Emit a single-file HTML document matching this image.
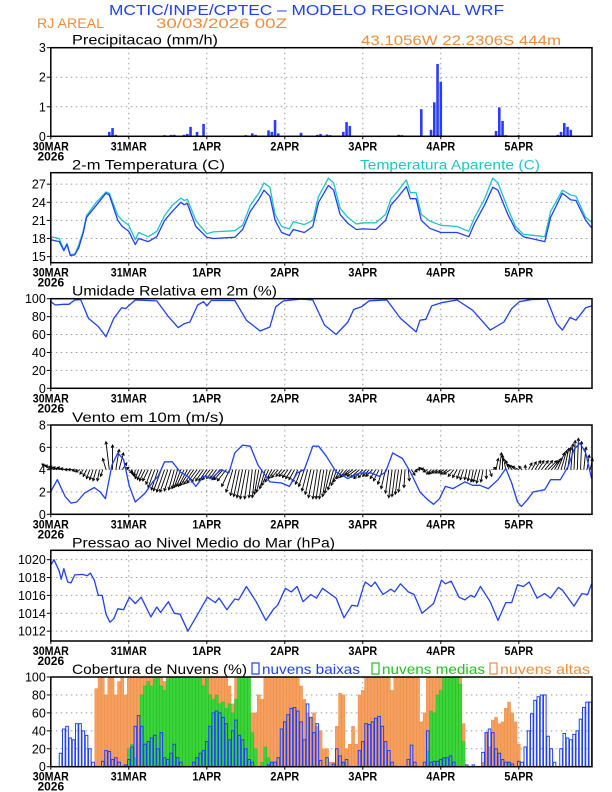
<!DOCTYPE html>
<html><head><meta charset="utf-8">
<style>
html,body{margin:0;padding:0;background:#fff;}
svg{display:block;font-family:"Liberation Sans",sans-serif;}
</style></head>
<body>
<svg id="c" width="612" height="792" viewBox="0 0 612 792" xmlns="http://www.w3.org/2000/svg">
<text x="109" y="15" font-size="15" fill="#2040ff" textLength="395" lengthAdjust="spacingAndGlyphs">MCTIC/INPE/CPTEC – MODELO REGIONAL WRF</text>
<text x="37" y="28" font-size="14" fill="#f08c3c" textLength="67" lengthAdjust="spacingAndGlyphs">RJ AREAL</text>
<text x="156" y="28" font-size="14" fill="#f08c3c" textLength="131" lengthAdjust="spacingAndGlyphs">30/03/2026 00Z</text>
<text x="361" y="45" font-size="14" fill="#f08c3c" textLength="200" lengthAdjust="spacingAndGlyphs">43.1056W 22.2306S 444m</text>
<g id="g"></g>
</svg>
<script>
// ---------- DATA ----------
const dayLabels = ["30MAR","31MAR","1APR","2APR","3APR","4APR","5APR"];
const precipHours = [18,19,20,35,37,38,41,42,43,45,47,48,60,62,63,67,68,69,70,77,82,83,85,86,90,91,92,107,108,114,117,118,119,120,137,138,139,140,144,156,157,158,159,160];
const precipVals  = [0.15,0.28,0.05,0.04,0.05,0.05,0.05,0.08,0.32,0.15,0.42,0.02,0.04,0.1,0.05,0.2,0.15,0.55,0.1,0.12,0.05,0.08,0.06,0.04,0.15,0.48,0.35,0.05,0.04,0.92,0.22,1.15,2.45,1.85,0.18,0.98,0.52,0.04,0.04,0.05,0.15,0.45,0.32,0.22];

const tempHours = [0,2.6,4,5,6,7.4,8.6,10,11,14,17,18,20.6,22,24,26,27,30,32.6,35,37.4,40,41,42,44.6,48,50,56.6,59,61.4,64,65.6,67.4,69,71,73.4,74.6,78,80.6,82.4,85.4,87,89,91.4,94,96.2,100,103,104.6,107,109.4,110.6,112.4,114,116.6,120,125,128.6,130.4,133.4,136,137.6,140.6,143,145.4,152,153.8,157.4,160,161.6,164.6,166.4];
const tempVals = [17.8,17.5,16,17,15.2,15.3,16.5,19,21.5,23.5,25.5,25.2,21,20,19.2,17,18,17.5,18.3,21,22.5,24,23.6,23.8,20,18.2,18,18.2,19.5,22.5,24.5,26,25,21,19,18.5,19.5,19,20,24,26.8,26,22,20.5,19.5,19.6,19.5,21,23.5,25,26.6,24.6,24.6,21,19.7,19,19,18.3,20.5,23.5,26.5,26,22,19.5,18.3,17.5,21.5,25.5,24.4,24.3,21,19.8];
const apparentVals = [18.3,18,16.1,17.2,15.3,15.4,17,19.3,21.8,24,25.7,25.5,21.8,21,20.2,17.8,19,18.3,19.2,21.8,23.5,24.7,24.3,24.5,21,18.8,19.1,19.3,20.2,23.5,25.5,27.2,26.5,22,20,19.6,20.8,20.3,21,25,28,27.2,23,21.5,20.4,20.6,20.6,22,24.5,26,27.7,25.6,25.6,22,20.9,20.2,20,19.2,21.5,24.5,28,27.2,23,20,18.7,18.3,22.5,26,25.2,25,21.5,20.7];

const rhHours = [0,1.4,3.8,5.6,7.4,9.2,11.6,14.6,17,19.4,21.8,23,26,32.6,36.2,39.2,41,42.8,45.2,47,48,49.4,56.6,60.2,64.4,67.4,69.2,71.6,77,80.6,84.2,87.8,91.4,93.2,95.6,98,103.4,107.6,112.4,113.6,115.4,117.2,120.2,125,129.8,135.2,139.4,141.8,144.2,147.8,152.6,155.6,157.4,159.8,161.6,164.6,166.4];
const rhVals = [96.6,93,93.7,93.7,98.5,99,78,69,57.6,78,90,89,98.5,97.5,80,67.7,72,74,93,96.6,92,98,98,76,64,68.4,91,97.5,99.6,98.5,70.6,60,74,88,91,97.7,98.5,78,63,76,77,92,95.5,98.5,87,65,74,89,96.6,99,99.6,72.5,65,79,76,90,92];

// hourly wind components (hour 0..166)
const windU = [-0.8,-0.8,-0.7,-0.7,-0.6,-0.6,-0.5,-0.5,-0.4,-0.4,-0.3,-0.3,-0.3,-0.3,-0.3,-0.2,-0.2,-0.3,-0.3,0,0.3,0.4,0.4,0.3,0.3,0.1,-0.1,-0.3,-0.4,-0.5,-0.5,-0.5,-0.6,-0.6,-0.7,-0.7,-0.7,-0.6,-0.5,-0.5,-0.6,-0.7,-0.8,-0.9,-0.9,-0.9,-0.8,-0.7,-0.7,-0.7,-0.6,-0.6,-0.7,-0.8,-0.8,-0.7,-0.6,-0.5,-0.5,-0.5,-0.5,-0.4,-0.3,-0.3,-0.4,-0.5,-0.5,-0.6,-0.6,-0.6,-0.6,-0.5,-0.5,-0.5,-0.5,-0.5,-0.5,-0.5,-0.5,-0.5,-0.5,-0.5,-0.4,-0.4,-0.4,-0.4,-0.5,-0.5,-0.5,-0.6,-0.6,-0.6,-0.7,-0.7,-0.8,-0.8,-0.8,-0.7,-0.6,-0.6,-0.5,-0.5,-0.4,-0.4,-0.3,-0.3,-0.3,-0.3,-0.3,-0.1,0.1,0.3,0.2,0,-0.2,-0.3,-0.4,-0.4,-0.5,-0.5,-0.5,-0.5,-0.6,-0.6,-0.5,-0.4,-0.3,-0.3,-0.2,-0.2,-0.2,-0.3,-0.3,-0.2,0,0.2,0.3,0.2,0.2,0,-0.2,-0.3,-0.5,-0.6,-0.6,-0.3,0,0.3,0.4,0.5,0.5,0.6,0.7,0.8,0.7,0.6,0.6,0.5,0.4,0.3,0.2,0.1,0.1,0.1,0.2,0.2,0.2];
const windV = [0.5,0.4,0.3,0.2,0.2,0.1,0,0,-0.1,-0.2,-0.4,-0.6,-0.8,-0.9,-1.0,-1.0,-0.6,1.0,2.5,2.2,1.8,1.5,0.6,0.2,-0.3,-0.5,-0.6,-0.8,-0.9,-1.0,-1.0,-1.3,-1.6,-1.8,-1.9,-2.0,-2.0,-1.9,-1.8,-1.7,-1.6,-1.5,-1.5,-1.4,-1.3,-1.2,-1.1,-1.0,-1.0,-0.9,-0.8,-0.8,-0.9,-0.9,-1.0,-1.5,-2.0,-2.3,-2.4,-2.5,-2.6,-2.6,-2.5,-2.5,-2.2,-2.0,-1.7,-1.4,-1.1,-0.8,-0.7,-0.6,-0.6,-0.7,-0.8,-0.9,-1.1,-1.3,-1.5,-1.9,-2.2,-2.5,-2.6,-2.6,-2.6,-2.4,-2.1,-1.8,-1.4,-1.1,-0.8,-0.7,-0.6,-0.5,-0.6,-0.7,-0.8,-0.7,-0.6,-0.6,-0.8,-1.0,-1.3,-1.7,-2.1,-2.5,-2.4,-2.2,-2.0,-1.6,-1.0,-0.5,-0.2,0.1,0.2,0.1,-0.2,-0.4,-0.4,-0.3,-0.3,-0.3,-0.4,-0.4,-0.6,-0.7,-0.8,-0.9,-0.9,-1.0,-1.1,-1.1,-1.2,-1.1,-0.8,-0.6,0.2,1.0,1.5,1.3,1.0,0.8,0.5,0.4,0.3,0.3,0.4,0.6,0.7,0.8,0.8,0.8,0.8,0.8,0.8,1.0,1.5,1.7,1.9,2.0,2.3,2.6,2.8,2.5,2.0,1.3,1.0];

const windHours = [0,2,4.4,6.2,8,10.4,13.4,15.2,16.8,18.8,20.6,22.4,24.2,26,29,31.4,33,35,37.4,39.8,42.2,44.6,47,49.4,52.4,54.8,56.6,59,61.4,63.8,67.4,71,73.4,75.8,78,80.6,82.4,84.8,87.8,91.4,95,98.6,101,103,105.2,108.2,110.6,113.6,116,117.8,119.6,121.4,123.8,127.4,129.8,132,134.6,137.6,140,141.8,143.6,144.8,146.6,148.4,152,153.8,156.8,159.2,161,162.8,164.6,166.4];
const windSpeed = [2.03,3.1,1.6,1.0,1.1,1.9,2.4,2.0,1.4,4.4,5.5,4.9,2.5,1.1,1.9,2.9,3.4,4.7,4.7,3.8,3.4,2.5,3.4,3.2,4.0,3.7,5.5,6.2,6.1,4.4,2.9,2.8,2.5,3.7,4.0,6.1,6.1,5.2,3.8,3.2,3.7,3.7,3.4,3.8,5.5,5.0,3.8,2.0,1.3,0.9,1.4,2.5,2.3,2.9,2.6,2.6,2.3,3.1,4.1,2.8,1.1,0.7,1.3,2.0,2.2,3.1,3.1,4.3,5.8,6.4,5.5,3.2];

const presHours = [0,1,2.6,3.2,4,5.2,6.2,7.4,9.8,11.2,12.2,13.4,14.6,15.8,17,18.2,19.4,20.6,22.4,24.2,26,27.8,30.8,32.6,33.8,36.2,38,39.8,42.2,45.2,48.2,50.6,51.8,54.2,56.6,57.8,60.2,63.2,66.2,68.6,69.8,72.2,74,75.8,77.6,80,81.8,83.6,86.6,87.8,90.2,92.6,94.4,96.2,96.8,98.6,99.8,102.2,104.6,105.8,107.6,110,111.8,114.2,117.8,120.2,121.4,123.2,125.6,127.4,129.2,130.4,132.2,135.2,137.6,140,141.8,143.6,145.4,147.2,149.6,152,153.8,156.2,157.4,158.6,161,163.4,165.2,166.4];
const presVals = [1019.4,1020,1018.7,1017.8,1019,1017.5,1017.4,1018.3,1018.35,1018.2,1018.5,1017.7,1016,1016,1013.9,1013,1013.4,1014.5,1014.4,1015.8,1015.1,1015.8,1013.6,1014.7,1014.1,1015.3,1014,1013.9,1012,1013.9,1015.8,1015.2,1015.7,1014.4,1015.6,1015.5,1017,1015.3,1013.2,1014.5,1014.9,1016.8,1016.4,1017,1015.3,1016.1,1015.7,1016.8,1016,1015.7,1013.5,1014.9,1014.8,1017,1017.5,1017,1017.5,1016.1,1016.7,1016.4,1017.3,1016.4,1016.1,1014,1015.1,1017.7,1017.3,1017.6,1015.8,1015.5,1016,1015.8,1017,1015.3,1013.2,1015.2,1015.2,1017.2,1017,1017.5,1015.7,1016.2,1015.7,1016.9,1016.6,1016,1014.8,1016.2,1016.1,1017.3];

const cloudLow = [0,0,0,15,42,45,32,30,48,48,40,35,20,5,0,0,6,18,17,8,10,5,0,2,8,22,45,57,45,25,28,32,35,20,38,10,8,15,25,10,5,0,0,0,5,10,15,18,28,45,60,62,60,55,48,30,40,52,35,30,20,8,5,0,0,0,0,2,5,5,10,42,50,58,65,66,62,50,30,70,55,38,48,7,0,10,0,3,20,12,5,8,0,0,0,18,28,48,47,50,54,56,45,28,18,5,0,0,0,0,8,24,5,0,0,5,40,5,6,6,8,10,10,12,5,0,0,0,2,0,2,0,0,16,38,42,38,20,15,8,5,5,3,0,6,5,22,40,59,74,78,80,80,34,20,5,0,20,37,32,30,36,40,53,66,72,72];
const cloudMid = [0,0,0,0,0,0,0,0,0,0,0,0,0,0,0,0,0,0,0,0,0,0,0,0,20,25,10,0,80,90,95,90,98,100,90,85,98,100,100,100,100,100,100,100,100,100,100,90,100,80,75,80,70,72,65,70,60,75,100,100,100,100,38,20,0,5,22,10,5,0,0,0,0,0,0,0,0,0,0,0,0,0,0,0,0,0,0,0,0,0,5,0,0,0,0,0,0,0,0,0,0,0,0,0,0,0,0,0,0,0,0,0,0,0,0,0,17,62,60,80,85,100,100,100,100,100,92,28,0,0,0,0,0,0,0,0,0,0,0,0,0,5,0,0,0,0,0,0,0,0,0,0,0,0,0,0,0,0,0,0,0,0,0,0,0,0,0];
const cloudHigh = [0,0,0,0,0,0,0,0,0,0,0,0,0,0,87,100,100,80,100,100,80,95,100,80,100,100,100,100,100,100,100,100,100,95,100,95,100,100,100,100,100,100,100,100,100,100,100,100,100,100,100,100,100,100,100,90,70,100,60,100,100,60,60,60,80,75,100,100,100,100,100,100,100,100,100,100,100,90,75,60,55,60,45,40,20,20,5,5,45,82,80,20,25,45,25,80,85,100,100,100,100,100,100,100,100,85,100,100,100,100,100,100,100,100,50,60,100,100,100,100,100,100,100,100,100,100,100,48,0,0,0,0,0,5,38,22,52,55,48,50,65,72,60,50,25,0,0,0,0,0,0,0,0,0,0,0,0,0,0,0,0,0,0,0,0,0,0,0];

// ---------- DRAWING ----------
const NS = "http://www.w3.org/2000/svg";
const G = document.getElementById('g');
const X0 = 50.8, PXH = 3.25, XR = 592;
function X(h){ return X0 + h*PXH; }
function mk(tag, attrs, parent){
  const e = document.createElementNS(NS, tag);
  for (const k in attrs) e.setAttribute(k, attrs[k]);
  (parent||G).appendChild(e);
  return e;
}
const panels = [
  {key:"precip", top:47.7, bot:136.3, min:0, max:3, ticks:[0,1,2,3], title:"Precipitacao (mm/h)", tw:146},
  {key:"temp", top:172.7, bot:262.7, min:14, max:28.9, ticks:[15,18,21,24,27], title:"2-m Temperatura (C)", tw:153},
  {key:"rh", top:298.7, bot:388.3, min:0, max:100, ticks:[0,20,40,60,80,100], title:"Umidade Relativa em 2m (%)", tw:205},
  {key:"wind", top:425, bot:514.3, min:0, max:8, ticks:[0,2,4,6,8], title:"Vento em 10m (m/s)", tw:152},
  {key:"pres", top:550.3, bot:641, min:1010.9, max:1021.05, ticks:[1012,1014,1016,1018,1020], title:"Pressao ao Nivel Medio do Mar (hPa)", tw:263},
  {key:"cloud", top:677, bot:766.7, min:0, max:100, ticks:[0,20,40,60,80,100], title:"Cobertura de Nuvens (%)", tw:175}
];
function Yf(p){ return v => p.bot - (v - p.min)/(p.max - p.min)*(p.bot - p.top); }

panels.forEach(p => {
  const Y = Yf(p);
  const pg = mk('g', {});
  
  
  dayLabels.forEach((d,i) => {
    if (i===0) return;
    const l = mk('line', {x1:X(i*24), x2:X(i*24), y1:p.top, y2:p.bot, stroke:'#999', 'stroke-width':1, 'stroke-dasharray':'1.5,3.5'}, pg);
    
    
  });
  p.ticks.forEach(t => {
    const y = Y(t);
    if (y > p.top+1 && y < p.bot-1) {
      const l = mk('line', {x1:X0, x2:XR, y1:y, y2:y, stroke:'#999', 'stroke-width':1, 'stroke-dasharray':'1.5,3.5'}, pg);
      
      
    }
    const tk = mk('line', {x1:X0-4, x2:X0, y1:y, y2:y, stroke:'#000', 'stroke-width':1}, pg);
    
    
    const tl = mk('text', {x:X0-5, y:y+4.5, 'font-size':12.5, 'text-anchor':'end', fill:'#000'}, pg);
    tl.textContent = t;
    
    
  });
  dayLabels.forEach((d,i) => {
    const tx = mk('text', {x:X(i*24), y:p.bot+14, 'font-size':12, 'font-weight':'bold', 'text-anchor':'middle', fill:'#000', textLength: d.length*7.2, lengthAdjust:'spacingAndGlyphs'}, pg);
    tx.textContent = d;
    
    
    const tk = mk('line', {x1:X(i*24), x2:X(i*24), y1:p.bot, y2:p.bot+3, stroke:'#000'}, pg);
    
    
  });
  const yr = mk('text', {x:X0, y:p.bot+24, 'font-size':12, 'font-weight':'bold', 'text-anchor':'middle', fill:'#000'}, pg);
  yr.textContent = '2026';
  
  
  const tt = mk('text', {x:72, y:p.top-3, 'font-size':14, fill:'#000', textLength:p.tw, lengthAdjust:'spacingAndGlyphs'}, pg);
  tt.textContent = p.title;
  
  
  p.g = pg; p.Y = Y;
});

(function(){
  const p = panels[0], Y = p.Y;
  precipHours.forEach((h,i) => {
    const r = mk('rect', {x:X(h)-1.3, y:Y(precipVals[i]), width:2.6, height:Y(0)-Y(precipVals[i]), fill:'#2a3cff'}, p.g);
    
    
  });
})();

function line(p, hs, vs, color, name, w){
  const d = hs.map((h,i) => (i?'L':'M') + X(h).toFixed(1) + ',' + p.Y(vs[i]).toFixed(1)).join(' ');
  const e = mk('path', {d:d, fill:'none', stroke:color, 'stroke-width':w||1.3, 'stroke-linejoin':'round'}, p.g);
  
  
}
line(panels[1], tempHours, apparentVals, '#20c4c4', 'apparent-temperature-line');
line(panels[1], tempHours, tempVals, '#2040ff', 'temperature-line');
(function(){
  const t = mk('text', {x:360, y:169.7, 'font-size':14, fill:'#20c4c4', textLength:180, lengthAdjust:'spacingAndGlyphs'}, panels[1].g);
  t.textContent = 'Temperatura Aparente (C)';
  
  
})();
line(panels[2], rhHours, rhVals, '#2040ff', 'humidity-line');

(function(){
  const p = panels[3], Y = p.Y, k = 11.2, by = Y(4);
  windU.forEach((u,h) => {
    const x0 = X(h), x1 = x0 + u*k, y1 = by - windV[h]*k;
    const ag = mk('g', {stroke:'#000', 'stroke-width':0.9, fill:'none'}, p.g);
    
    
    mk('line', {x1:x0, y1:by, x2:x1, y2:y1}, ag);
    const ang = Math.atan2(y1-by, x1-x0), L = 3;
    mk('path', {d:'M'+(x1-L*Math.cos(ang-0.5))+','+(y1-L*Math.sin(ang-0.5))+' L'+x1+','+y1+' L'+(x1-L*Math.cos(ang+0.5))+','+(y1-L*Math.sin(ang+0.5))}, ag);
  });
})();
line(panels[3], windHours, windSpeed, '#2040ff', 'wind-speed-line');
line(panels[4], presHours, presVals, '#2040ff', 'pressure-line');

(function(){
  const p = panels[5], Y = p.Y;
  cloudHigh.forEach((v,h) => { if(!v) return;
    const r = mk('rect', {x:X(h)-1.5, y:Y(v), width:3, height:Y(0)-Y(v), fill:'#f4a062', stroke:'#f08c3c', 'stroke-width':0.5}, p.g);
    
    
  });
  cloudMid.forEach((v,h) => { if(!v) return;
    const r = mk('rect', {x:X(h)-1.5, y:Y(v), width:3, height:Y(0)-Y(v), fill:'#3cd43c', stroke:'#20c020', 'stroke-width':0.5}, p.g);
    
    
  });
  cloudLow.forEach((v,h) => { if(!v) return;
    const r = mk('rect', {x:X(h)-1.3, y:Y(v), width:2.6, height:Y(0)-Y(v), fill:'none', stroke:'#2040ff', 'stroke-width':1}, p.g);
    
    
  });
  const leg = [['nuvens baixas','#2040ff',252,108],['nuvens medias','#20c020',372,113],['nuvens altas','#f08c3c',490,100]];
  leg.forEach(l => {
    const lg = mk('g', {}, p.g);
    
    
    mk('rect', {x:l[2], y:663, width:7, height:11, fill:'none', stroke:l[1], 'stroke-width':1.2}, lg);
    const t = mk('text', {x:l[2]+10, y:674, 'font-size':14, fill:l[1], textLength:l[3]-10, lengthAdjust:'spacingAndGlyphs'}, lg);
    t.textContent = l[0];
  });
})();

panels.forEach(p => {
  const f = mk('rect', {x:X0, y:p.top, width:XR-X0, height:p.bot-p.top, fill:'none', stroke:'#000', 'stroke-width':1.5}, p.g);
  
  
});
</script>
</body></html>
